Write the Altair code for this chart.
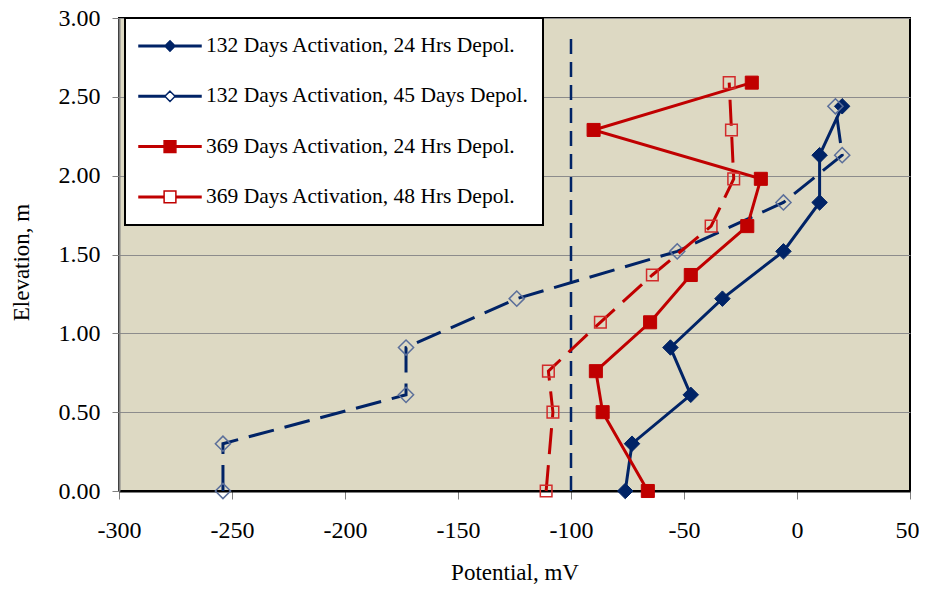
import altair as alt
import pandas as pd

# ---------------- data ----------------
series_names = [
    "132 Days Activation, 24 Hrs Depol.",
    "132 Days Activation, 45 Days Depol.",
    "369 Days Activation, 24 Hrs Depol.",
    "369 Days Activation, 48 Hrs Depol.",
]
elev_132 = [0.00, 0.30, 0.61, 0.91, 1.22, 1.52, 1.83, 2.13, 2.44]
pot_132_24h = [-76, -73, -47, -56, -33, -6, 10, 10, 20]
pot_132_45d = [-254, -254, -173, -173, -124, -53, -6, 20, 17]
elev_369 = [0.00, 0.50, 0.76, 1.07, 1.37, 1.68, 1.98, 2.29, 2.59]
pot_369_24h = [-66, -86, -89, -65, -47, -22, -16, -90, -20]
pot_369_48h = [-111, -108, -110, -87, -64, -38, -28, -29, -30]

ref_potential = [-100, -100]
ref_elevation = [0.0, 2.87]

x_ticks = [-300, -250, -200, -150, -100, -50, 0, 50]
y_ticks = [0.0, 0.5, 1.0, 1.5, 2.0, 2.5, 3.0]

# ---------------- styles ----------------
NAVY = "#002366"
RED = "#C00000"
FONT = "Liberation Serif"

rows = []
for name, elevs, pots in zip(series_names,
                             [elev_132, elev_132, elev_369, elev_369],
                             [pot_132_24h, pot_132_45d, pot_369_24h, pot_369_48h]):
    for i, (e, p) in enumerate(zip(elevs, pots)):
        rows.append({"series": name, "elev": e, "pot": p, "idx": i})
df = pd.DataFrame(rows)
ref_df = pd.DataFrame({"pot": ref_potential[:1], "elev": ref_elevation[:1], "elev2": ref_elevation[1:]})

x_enc = alt.X("pot:Q", scale=alt.Scale(domain=[-300, 50], nice=False, zero=False),
              axis=alt.Axis(values=x_ticks, grid=False, title="Potential, mV",
                            labelExpr="datum.value < 0 ? '-' + abs(datum.value) : '' + datum.value",
                            labelOffset={"condition": {"test": "datum.value === 50", "value": -3}, "value": 0},
                            domainColor="black", domainWidth=2,
                            tickColor="#808080", tickSize=8, tickWidth=1,
                            labelFont=FONT, labelFontSize=24, labelColor="black",
                            labelPadding=19, labelFlush=False, labelOverlap=False,
                            titleFont=FONT, titleFontSize=23, titleFontWeight="normal",
                            titleColor="black", titleY=88, titleBaseline="alphabetic"))
y_enc = alt.Y("elev:Q", scale=alt.Scale(domain=[0, 3], nice=False, zero=False),
              axis=alt.Axis(values=y_ticks, format=".2f", grid=True, gridColor="#8C8C8C",
                            gridWidth=1, title="Elevation, m",
                            domainColor="#808080", domainWidth=2,
                            tickColor="#808080", tickSize=7, tickWidth=1,
                            labelFont=FONT, labelFontSize=24, labelColor="black",
                            labelPadding=12, labelFlush=False, labelOverlap=False,
                            titleFont=FONT, titleFontSize=23, titleFontWeight="normal",
                            titleColor="black", titleX=-98, titleY=244,
                            titleBaseline="middle", titleAngle=270))

base = alt.Chart(df).encode(x=x_enc, y=y_enc)

line_style = {
    series_names[0]: dict(color=NAVY, dash=None),
    series_names[1]: dict(color=NAVY, dash=[26, 11]),
    series_names[2]: dict(color=RED, dash=None),
    series_names[3]: dict(color=RED, dash=[26, 11]),
}
point_style = {
    series_names[0]: dict(shape="diamond", filled=True, color=NAVY, size=240),
    series_names[1]: dict(shape="diamond", filled=False, color="#5B6F9A", size=230),
    series_names[2]: dict(shape="square", filled=True, color=RED, size=170),
    series_names[3]: dict(shape="square", filled=False, color="#D22B2B", size=135),
}

layers = []
ref_rule = alt.Chart(ref_df).mark_rule(color=NAVY, strokeWidth=2.5, strokeDash=[15, 8]).encode(
    x=alt.X("pot:Q"), y=alt.Y("elev:Q"), y2="elev2:Q")
layers.append(ref_rule)

for name in series_names:
    ls = line_style[name]
    kw = dict(color=ls["color"], strokeWidth=3)
    if ls["dash"]:
        kw["strokeDash"] = ls["dash"]
    line = base.transform_filter(alt.datum.series == name).mark_line(**kw).encode(
        order=alt.Order("idx:Q"))
    ps = point_style[name]
    if ps["filled"]:
        pt = base.transform_filter(alt.datum.series == name).mark_point(
            shape=ps["shape"], filled=True, fill=ps["color"], stroke=ps["color"],
            strokeWidth=1, size=ps["size"], opacity=1)
    else:
        pt = base.transform_filter(alt.datum.series == name).mark_point(
            shape=ps["shape"], filled=False, stroke=ps["color"],
            strokeWidth=1.5, size=ps["size"], opacity=1)
    layers.append(line)
    layers.append(pt)

# legend symbols: a line with the marker in its middle (unit = 31 px)
band_d = "M-1,-0.024L-0.155,-0.024L-0.155,0.024L-1,0.024Z M0.155,-0.024L1,-0.024L1,0.024L0.155,0.024Z "
band_s = "M-1,-0.024L-0.19,-0.024L-0.19,0.024L-1,0.024Z M0.19,-0.024L1,-0.024L1,0.024L0.19,0.024Z "
diamond = "M0,-0.165L0.165,0L0,0.165L-0.165,0Z"
square = "M-0.19,-0.19L0.19,-0.19L0.19,0.19L-0.19,0.19Z"
legend_shapes = [band_d + diamond, band_d + diamond, band_s + square, band_s + square]
legend_fills = [NAVY, "white", RED, "white"]
legend_strokes = [NAVY, NAVY, RED, RED]

leg = alt.Legend(title=None, orient="none", legendX=6, legendY=0, padding=13,
                 fillColor="white", strokeColor="black",
                 symbolSize=3844, symbolStrokeWidth=1.5, clipHeight=30,
                 rowPadding=20.3, labelFont=FONT, labelFontSize=21.5, labelColor="black",
                 labelOffset=4, labelLimit=600, symbolOpacity=1)

legend_layer = base.transform_filter("false").mark_point(opacity=1, strokeWidth=1.5).encode(
    shape=alt.Shape("series:N", scale=alt.Scale(domain=series_names, range=legend_shapes), legend=leg),
    fill=alt.Fill("series:N", scale=alt.Scale(domain=series_names, range=legend_fills), legend=leg),
    stroke=alt.Stroke("series:N", scale=alt.Scale(domain=series_names, range=legend_strokes), legend=leg),
)
layers.append(legend_layer)

chart = alt.layer(*layers).properties(
    width=791, height=473,
    autosize=alt.AutoSizeParams(type="none"),
    padding={"left": 111, "top": 10, "right": 9, "bottom": 93},
    background="white",
).configure_view(fill="#DDD9C3", stroke="black", strokeWidth=2
).configure_legend(strokeWidth=2)

chart.save("out.html", embed_options={"renderer": "svg", "actions": False})
